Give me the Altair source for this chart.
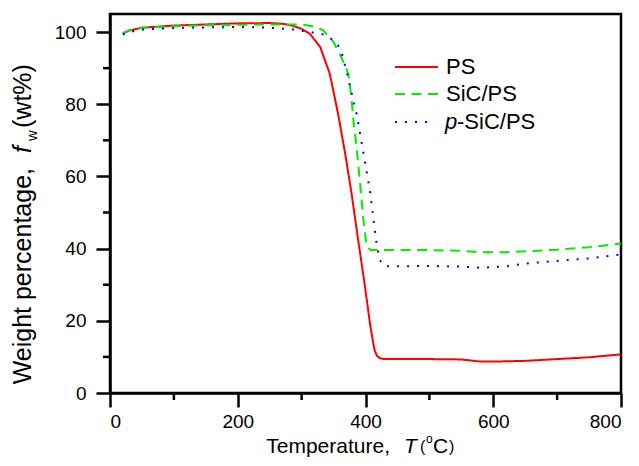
import altair as alt
import pandas as pd

# ---------------- data ----------------
series_names = ["PS", "SiC/PS", "p-SiC/PS"]
series_colors = ["#ff0000", "#00ee00", "#0000ff"]

ps_t = [20, 30, 50, 100, 150, 200, 250, 270, 285, 300, 313, 329, 344, 357, 368, 378,
        388, 398, 408, 414, 418, 422, 428, 450, 500, 550, 565, 580, 600, 650, 700, 750, 800]
ps_w = [99.6, 100.4, 101.2, 101.8, 102.1, 102.4, 102.5, 102.3, 101.8, 100.9, 99.5, 95.9,
        88.5, 77.4, 66.5, 55.5, 43.0, 31.0, 18.0, 12.0, 10.3, 9.7, 9.4, 9.4, 9.4, 9.3,
        9.0, 8.7, 8.7, 8.9, 9.4, 9.9, 10.7]

sic_t = [20, 30, 50, 100, 150, 200, 250, 290, 308, 322, 334, 350, 362, 373, 378, 381,
         386, 391, 397, 402, 408, 450, 500, 550, 580, 620, 700, 750, 800]
sic_w = [99.7, 100.5, 101.2, 101.6, 101.9, 102.0, 102.1, 102.1, 101.9, 101.4, 100.5,
         97.2, 93.1, 88.5, 82.0, 75.6, 68.2, 59.0, 47.5, 40.5, 39.6, 39.6, 39.6, 39.4,
         39.0, 39.0, 39.7, 40.4, 41.4]

psic_t = [20, 30, 50, 100, 150, 200, 250, 287, 302, 331, 342, 357, 363, 370, 376, 386,
          396, 407, 412, 417, 422, 430, 450, 500, 550, 580, 620, 652, 700, 750, 800]
psic_w = [99.3, 100.0, 100.7, 101.1, 101.3, 101.4, 101.2, 100.7, 100.3, 99.5, 98.8,
          96.3, 94.0, 89.4, 84.8, 77.4, 67.3, 56.0, 48.8, 41.9, 36.9, 35.1, 35.1, 35.2,
          35.0, 34.7, 35.1, 35.9, 36.6, 37.3, 38.4]

x_ticks = [0, 200, 400, 600, 800]
x_minor = [100, 300, 500, 700]
y_ticks = [0, 20, 40, 60, 80, 100]
y_minor = [10, 30, 50, 70, 90]

# ---------------- build table ----------------
rows = []
for name, ts, ws in zip(series_names, [ps_t, sic_t, psic_t], [ps_w, sic_w, psic_w]):
    for t, w in zip(ts, ws):
        rows.append({"series": name, "T": t, "w": w})
df = pd.DataFrame(rows)

W, H = 511, 379
FONT = "Liberation Sans"
dashes = [[1, 0], [10, 6.5], [2, 8]]

x_scale = alt.Scale(domain=[0, 800], nice=False, zero=False)
y_scale = alt.Scale(domain=[0, 105], nice=False, zero=False)

axis_common = dict(grid=False, title=None, tickSize=14, tickWidth=2.5, tickColor="black",
                   domainColor="black", domainWidth=2.5, labelFont=FONT,
                   labelFontSize=19, labelColor="black", format="d")
x_axis = alt.Axis(values=x_ticks, labelPadding=5, **axis_common)
y_axis = alt.Axis(values=y_ticks, labelPadding=10, **axis_common)

X = alt.X("T:Q", scale=x_scale, axis=x_axis)
Y = alt.Y("w:Q", scale=y_scale, axis=y_axis)

lines = alt.Chart(df).mark_line(strokeWidth=2, clip=True).encode(
    x=X,
    y=Y,
    color=alt.Color("series:N", scale=alt.Scale(domain=series_names, range=series_colors), legend=None),
    strokeDash=alt.StrokeDash("series:N", scale=alt.Scale(domain=series_names, range=dashes), legend=None),
    detail="series:N",
)

minor_x = alt.Chart(pd.DataFrame({"T": x_minor})).mark_rule(color="black", strokeWidth=2.5).encode(
    x=X, y=alt.value(H), y2=alt.value(H + 7),
)
minor_y = alt.Chart(pd.DataFrame({"w": y_minor})).mark_rule(color="black", strokeWidth=2.5).encode(
    y=Y, x=alt.value(0), x2=alt.value(-7),
)

one = pd.DataFrame({"a": [0]})


def txt(s, x, y, size, italic=False, angle=0, align="left", baseline="alphabetic"):
    kw = dict(text=s, font=FONT, fontSize=size, color="black", align=align, baseline=baseline)
    if italic:
        kw["fontStyle"] = "italic"
    if angle:
        kw["angle"] = angle
    return alt.Chart(one).mark_text(**kw).encode(x=alt.value(x), y=alt.value(y))


def legend_line(i, y, x1=285, x2=328):
    return alt.Chart(one).mark_rule(color=series_colors[i], strokeWidth=2,
                                    strokeDash=dashes[i]).encode(
        x=alt.value(x1), x2=alt.value(x2), y=alt.value(y))


leg = [
    legend_line(0, 53), txt("PS", 336, 53, 22, baseline="middle"),
    legend_line(1, 80), txt("SiC/PS", 336, 80, 22, baseline="middle"),
    legend_line(2, 108, x2=322), txt("p", 335, 108, 22, italic=True, baseline="middle"),
    txt("-SiC/PS", 347, 108, 22, baseline="middle"),
]

# x-axis title: Temperature, T (°C)  (pieces joined around the italic T)
XB = 439
xt = [
    txt("Temperature,", 280, XB, 21, align="right"),
    txt("T", 294, XB, 21, italic=True),
    txt("(", 310, XB - 1, 16),
    txt("o", 316, XB - 10, 12),
    txt("C", 323, XB, 21),
    txt(")", 339, XB - 1, 16),
]
# y-axis title: Weight percentage, f_w (wt%)  (pieces joined around the italic f)
yt = [
    txt("Weight percentage,", -79, 154, 25, angle=270, align="right"),
    txt("f", -79, 139, 25, italic=True, angle=270),
    txt("w", -73, 127, 15, angle=270),
    txt("(wt%)", -79, 114, 25, angle=270),
]

chart = alt.layer(lines, minor_x, minor_y, *leg, *xt, *yt).properties(
    width=W, height=H,
    autosize=alt.AutoSizeParams(type="none"),
    padding={"left": 102, "top": 6, "right": 10, "bottom": 65},
).configure_view(stroke="black", strokeWidth=2.5)

chart.save("out.html", embed_options={"renderer": "svg", "actions": False})
